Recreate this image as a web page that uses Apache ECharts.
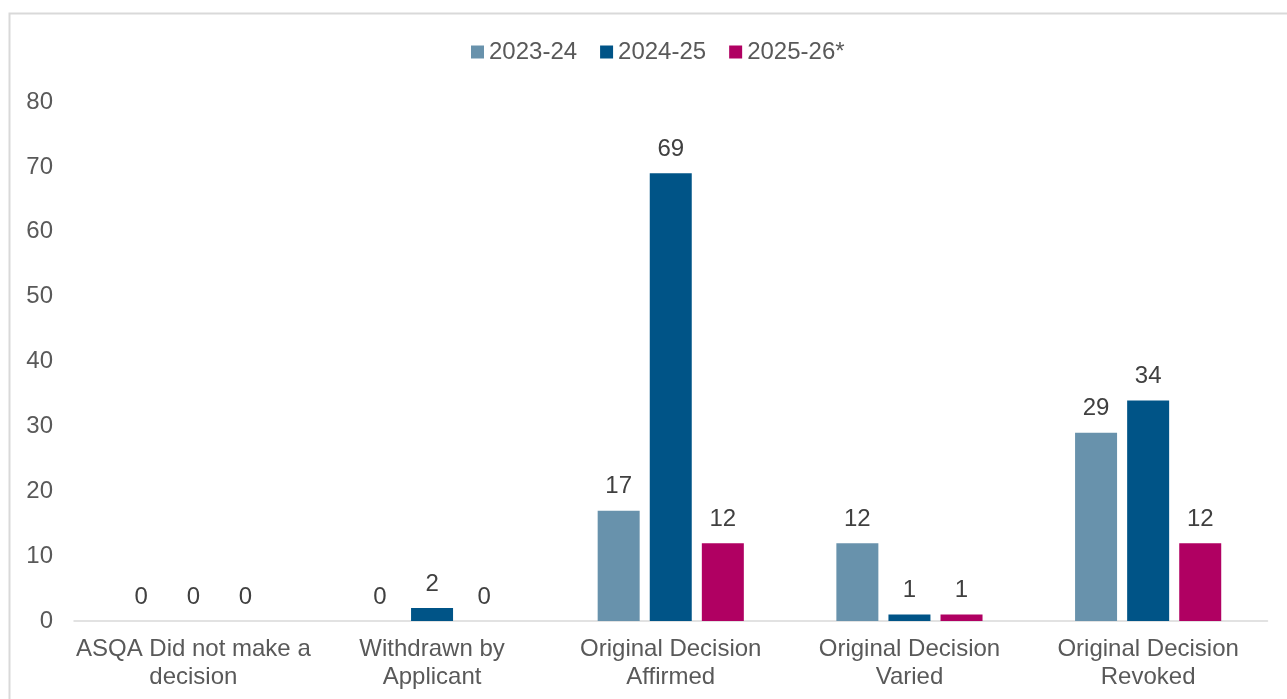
<!DOCTYPE html>
<html>
<head>
<meta charset="utf-8">
<script src="https://cdn.jsdelivr.net/npm/echarts@6/dist/echarts.min.js"></script>
<style>
html,body{margin:0;padding:0;background:#fff;}
#chart{width:1287px;height:699px;}
</style>
</head>
<body>
<div id="chart"></div>
<script>
const categories = ['ASQA Did not make a\ndecision', 'Withdrawn by\nApplicant', 'Original Decision\nAffirmed', 'Original Decision\nVaried', 'Original Decision\nRevoked'];
const seriesNames = ['2023-24', '2024-25', '2025-26*'];
const values2023 = [0, 0, 17, 12, 29];
const values2024 = [0, 2, 69, 1, 34];
const values2025 = [0, 0, 12, 1, 12];
const colors = ['#6892AC', '#005487', '#B00062'];

const chart = echarts.init(document.getElementById('chart'), null, {renderer: 'canvas'});
const font = 'Liberation Sans, Arial, sans-serif';
function bar(name, data, color) {
  return {
    name: name, type: 'bar', data: data,
    barWidth: 42, barGap: '24%',
    itemStyle: {color: color},
    label: {show: true, position: 'top', distance: 12, color: '#404040', fontSize: 24, fontFamily: font},
    emphasis: {disabled: true}
  };
}
chart.setOption({
  animation: false,
  textStyle: {fontFamily: font},
  graphic: [{
    type: 'rect', shape: {x: 9.5, y: 13.5, width: 1400, height: 800},
    style: {fill: 'none', stroke: '#d9d9d9', lineWidth: 2}, silent: true, z: -1
  }],
  legend: {
    left: 471, top: 40, padding: 0, itemWidth: 13, itemHeight: 13, itemGap: 23,
    icon: 'rect',
    textStyle: {color: '#595959', fontSize: 24, fontFamily: font},
    data: seriesNames
  },
  grid: {left: 74, right: 19.5, top: 102, bottom: 78, containLabel: false},
  xAxis: {
    type: 'category', data: categories,
    axisLine: {lineStyle: {color: '#d9d9d9', width: 1.5}},
    axisTick: {show: false},
    axisLabel: {color: '#595959', fontSize: 24, fontFamily: font, lineHeight: 28, margin: 14, interval: 0}
  },
  yAxis: {
    type: 'value', min: 0, max: 80, interval: 10,
    axisLine: {show: false}, axisTick: {show: false},
    splitLine: {show: false},
    axisLabel: {color: '#595959', fontSize: 24, fontFamily: font, margin: 21}
  },
  series: [bar(seriesNames[0], values2023, colors[0]), bar(seriesNames[1], values2024, colors[1]), bar(seriesNames[2], values2025, colors[2])]
});
</script>
</body>
</html>
